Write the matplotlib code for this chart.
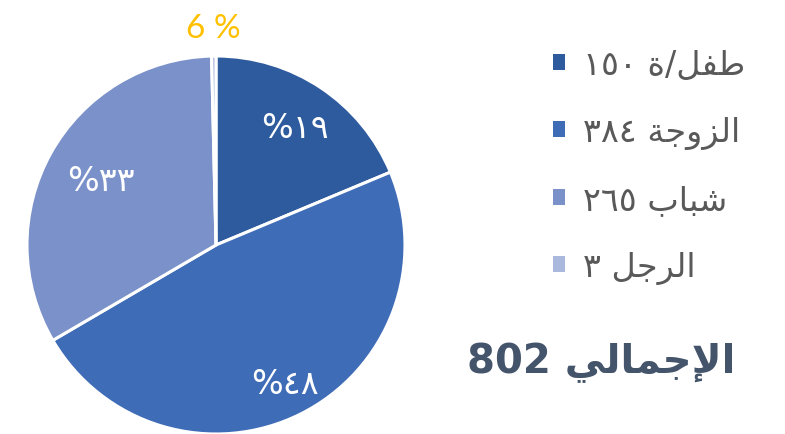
"""
Pie chart of group counts with Arabic legend and total
"""
import numpy as np
import matplotlib
matplotlib.use('Agg')
import matplotlib.pyplot as plt
from matplotlib.patches import Patch

# data
labels = ['طفل/ة ١٥٠', 'الزوجة ٣٨٤', 'شباب ٢٦٥', 'الرجل ٣']
values = [150, 384, 265, 3]
pct_labels = ['%١٩', '%٤٨', '%٣٣', '6 %']
total_label = 'الإجمالي 802'

colors = ['#2E5A9E', '#3F6CB7', '#7A91C9', '#AAB8DE']
pct_colors = ['white', 'white', 'white', '#FFC000']
pct_radius = [0.75, 0.82, 0.70, 1.15]

# presentation forms: isolated, final, initial, medial
FORMS = {
    'ا': ('\uFE8D', '\uFE8E', None, None),
    'إ': ('\uFE87', '\uFE88', None, None),
    'ة': ('\uFE93', '\uFE94', None, None),
    'ر': ('\uFEAD', '\uFEAE', None, None),
    'ز': ('\uFEAF', '\uFEB0', None, None),
    'و': ('\uFEED', '\uFEEE', None, None),
    'ب': ('\uFE8F', '\uFE90', '\uFE91', '\uFE92'),
    'ج': ('\uFE9D', '\uFE9E', '\uFE9F', '\uFEA0'),
    'ش': ('\uFEB5', '\uFEB6', '\uFEB7', '\uFEB8'),
    'ط': ('\uFEC1', '\uFEC2', '\uFEC3', '\uFEC4'),
    'ف': ('\uFED1', '\uFED2', '\uFED3', '\uFED4'),
    'ل': ('\uFEDD', '\uFEDE', '\uFEDF', '\uFEE0'),
    'م': ('\uFEE1', '\uFEE2', '\uFEE3', '\uFEE4'),
    'ي': ('\uFEF1', '\uFEF2', '\uFEF3', '\uFEF4'),
    'لا': ('\uFEFB', '\uFEFC', None, None),
    'لإ': ('\uFEF9', '\uFEFA', None, None),
}


def shape(word):
    """join arabic letters, logical order"""
    toks = []
    i = 0
    while i < len(word):
        if word[i] == 'ل' and i + 1 < len(word) and word[i + 1] in 'اإ':
            toks.append(word[i:i + 2])
            i += 2
        else:
            toks.append(word[i])
            i += 1
    out = []
    for k, t in enumerate(toks):
        if t not in FORMS:
            out.append(t)
            continue
        iso, fin, ini, med = FORMS[t]
        prev = toks[k - 1] if k > 0 else None
        nxt = toks[k + 1] if k + 1 < len(toks) else None
        jp = prev in FORMS and FORMS[prev][2] is not None
        jn = ini is not None and nxt in FORMS
        if jp and jn:
            out.append(med)
        elif jp:
            out.append(fin)
        elif jn:
            out.append(ini)
        else:
            out.append(iso)
    return ''.join(out)


def rtl(text):
    """visual order for a simple right-to-left line"""
    parts = []
    for tok in text.split(' '):
        if any(c in FORMS for c in tok):
            tok = shape(tok)[::-1]
        parts.append(tok)
    return ' '.join(parts[::-1])


plt.rcParams['font.family'] = ['DejaVu Sans']

fig = plt.figure(figsize=(7.85, 4.35), dpi=100)
ax = fig.add_axes([27 / 785, 0, 378 / 785, 378 / 435])

wedges, _ = ax.pie(values, colors=colors, startangle=90, counterclock=False,
                   wedgeprops=dict(edgecolor='white', linewidth=2.2))
ax.set_xlim(-1, 1)
ax.set_ylim(-1, 1)
ax.set_aspect('equal')

for w, txt, col, r in zip(wedges, pct_labels, pct_colors, pct_radius):
    ang = np.deg2rad((w.theta1 + w.theta2) / 2)
    fam = ['Lato', 'DejaVu Sans'] if col != 'white' else ['DejaVu Sans']
    ax.text(r * np.cos(ang), r * np.sin(ang), txt, color=col, fontsize=24,
            ha='center', va='center', family=fam, clip_on=False)

handles = [Patch(facecolor=c) for c in colors]
fig.legend(handles, [rtl(l) for l in labels], loc='upper left',
           bbox_to_anchor=(553 / 785, 1 - 49 / 435), frameon=False,
           fontsize=24, labelcolor='#595959', handlelength=0.36,
           handleheight=0.36, handletextpad=0.54, labelspacing=1.02,
           borderpad=0, borderaxespad=0)

fig.text(735 / 785, 1 - 363 / 435, rtl(total_label), color='#44546A',
         fontsize=29, fontweight='bold', ha='right', va='center',
         family=['DejaVu Sans'])

fig.savefig('out.png', dpi=100)
